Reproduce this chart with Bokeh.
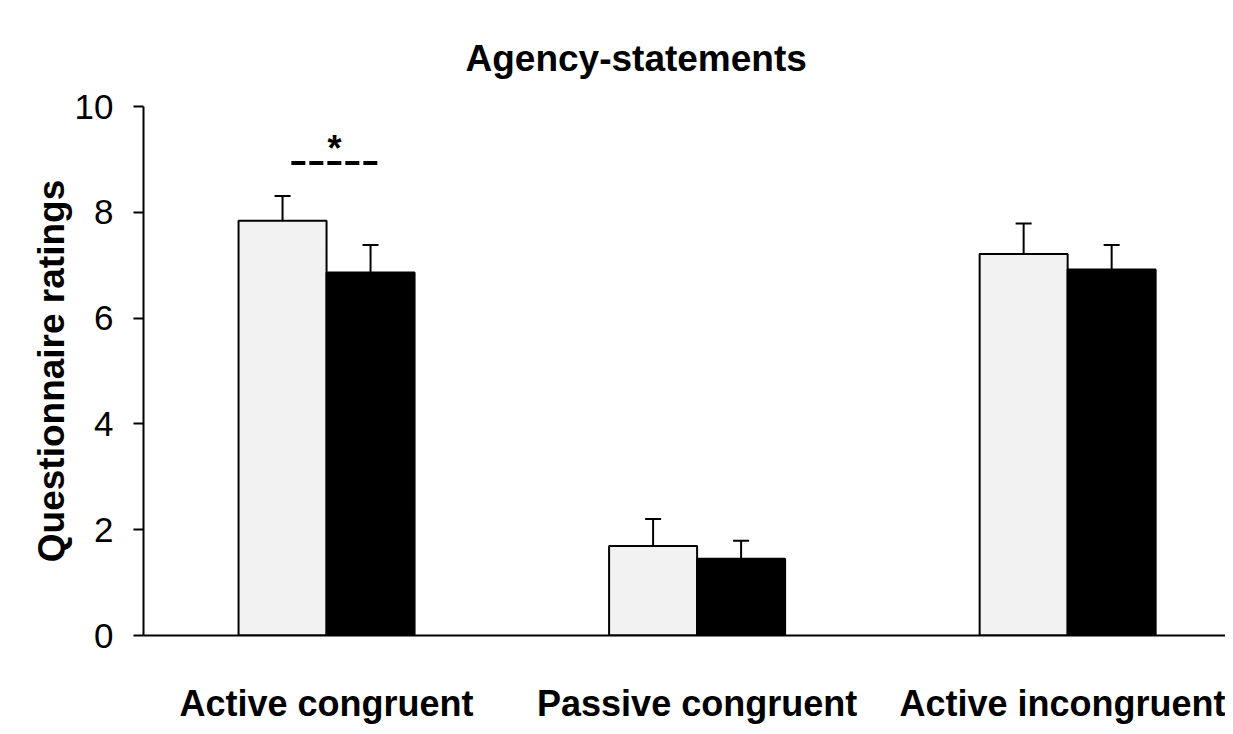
from bokeh.plotting import figure
from bokeh.models import (ColumnDataSource, FixedTicker, Whisker, TeeHead, Range1d, Title)
from bokeh.core.properties import value
from bokeh.embed import file_html
from bokeh.resources import INLINE

# ---- data ----
categories = ["Active congruent", "Passive congruent", "Active incongruent"]
cond_a_means = [7.84, 1.69, 7.21]   # light bars
cond_a_err = [0.47, 0.51, 0.58]
cond_b_means = [6.86, 1.45, 6.92]   # black bars
cond_b_err = [0.52, 0.34, 0.46]
y_ticks = [0, 2, 4, 6, 8, 10]
title_text = "Agency-statements"
y_label = "Questionnaire ratings"
sig_marker = "*"
sig_span = [0.905, 1.138]   # dashed significance line (x in group units)
sig_level = 8.93

FONT = "Liberation Sans"
bar_w = 0.2375
group_x = [1, 2, 3]
xa = [g - bar_w / 2 for g in group_x]
xb = [g + bar_w / 2 for g in group_x]

p = figure(width=1225, height=726, output_backend="svg", toolbar_location=None,
           x_range=Range1d(0.506, 3.426), y_range=Range1d(0, 10),
           min_border_left=143, min_border_right=0, min_border_top=106,
           min_border_bottom=90)
p.outline_line_color = None
p.grid.visible = False
p.background_fill_color = "white"

t = Title(text=title_text, text_font=FONT, text_font_style="bold",
          text_font_size="37px", text_color="black", align="left",
          offset=322, standoff=55)
p.title = t

src_a = ColumnDataSource(dict(x=xa, top=cond_a_means,
                              upper=[m + e for m, e in zip(cond_a_means, cond_a_err)]))
src_b = ColumnDataSource(dict(x=xb, top=cond_b_means,
                              upper=[m + e for m, e in zip(cond_b_means, cond_b_err)]))

p.vbar(x="x", top="top", bottom=0, width=bar_w, source=src_a,
       fill_color="#f2f2f2", line_color="black", line_width=2)
p.vbar(x="x", top="top", bottom=0, width=bar_w, source=src_b,
       fill_color="black", line_color="black", line_width=2)

for src in (src_a, src_b):
    w = Whisker(base="x", lower="top", upper="upper", source=src,
                line_color="black", line_width=2,
                upper_head=TeeHead(size=16, line_width=2, line_color="black"),
                lower_head=None)
    p.add_layout(w)

# significance marker
p.line(x=sig_span, y=[sig_level, sig_level], line_color="black", line_width=4,
       line_dash="14 4")
p.text(x=[sum(sig_span) / 2], y=[9.21], text=[sig_marker],
       text_font=value(FONT), text_font_style="bold", text_font_size="36px",
       text_align="center", text_baseline="alphabetic", text_color="black")

# y axis
ya = p.yaxis[0]
ya.ticker = FixedTicker(ticks=y_ticks)
ya.axis_line_width = 2
ya.axis_line_color = "black"
ya.major_tick_line_width = 2
ya.major_tick_out = 10
ya.major_tick_in = 0
ya.minor_tick_line_color = None
ya.major_label_standoff = 20
ya.major_label_text_font = FONT
ya.major_label_text_font_size = "35px"
ya.major_label_text_color = "black"
ya.axis_label = y_label
ya.axis_label_text_font = FONT
ya.axis_label_text_font_style = "bold"
ya.axis_label_text_font_size = "37px"
ya.axis_label_text_color = "black"
ya.axis_label_standoff = 0

# x axis
xa_ax = p.xaxis[0]
xa_ax.ticker = FixedTicker(ticks=group_x)
xa_ax.major_label_overrides = {g: c for g, c in zip(group_x, categories)}
xa_ax.axis_line_width = 2
xa_ax.axis_line_color = "black"
xa_ax.major_tick_line_color = None
xa_ax.major_tick_out = 0
xa_ax.major_tick_in = 0
xa_ax.minor_tick_line_color = None
xa_ax.major_label_standoff = 47
xa_ax.major_label_text_font = FONT
xa_ax.major_label_text_font_style = "bold"
xa_ax.major_label_text_font_size = "36px"
xa_ax.major_label_text_color = "black"

open("out.html", "w").write(file_html(p, INLINE))
